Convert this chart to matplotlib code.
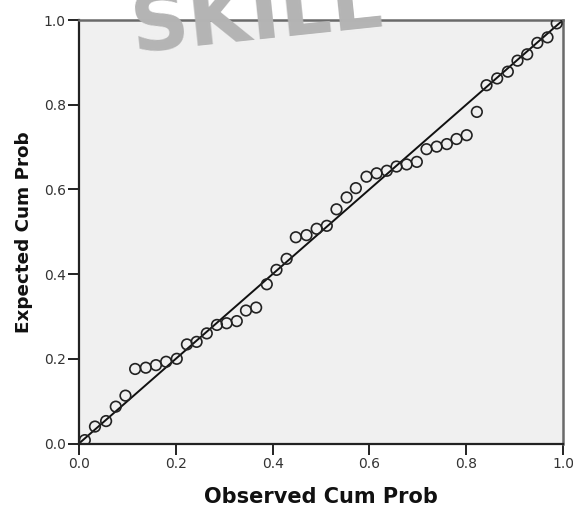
import matplotlib
matplotlib.use("Agg")
import matplotlib.pyplot as plt

# Observed cumulative probability (x) and expected cumulative probability (y)
observed = [0.012, 0.033, 0.056, 0.076, 0.096, 0.116, 0.138, 0.159, 0.180, 0.202,
            0.223, 0.243, 0.264, 0.285, 0.305, 0.326, 0.345, 0.366, 0.388, 0.408,
            0.429, 0.448, 0.470, 0.491, 0.512, 0.532, 0.553, 0.572, 0.594, 0.615,
            0.636, 0.656, 0.677, 0.698, 0.718, 0.739, 0.760, 0.780, 0.801, 0.822,
            0.842, 0.864, 0.886, 0.906, 0.926, 0.947, 0.968, 0.987]
expected = [0.008, 0.040, 0.053, 0.087, 0.113, 0.176, 0.179, 0.185, 0.193, 0.200,
            0.234, 0.240, 0.260, 0.280, 0.284, 0.289, 0.314, 0.321, 0.376, 0.410,
            0.436, 0.487, 0.492, 0.507, 0.514, 0.553, 0.581, 0.603, 0.630, 0.638,
            0.644, 0.654, 0.659, 0.665, 0.695, 0.701, 0.707, 0.719, 0.728, 0.783,
            0.846, 0.862, 0.878, 0.904, 0.919, 0.946, 0.959, 0.992]
ref_line = [0.0, 1.0]
ticks = [0.0, 0.2, 0.4, 0.6, 0.8, 1.0]
tick_labels = ["0.0", "0.2", "0.4", "0.6", "0.8", "1.0"]

plt.rcParams['font.family'] = ['DejaVu Sans']

fig = plt.figure(figsize=(5.73, 5.09), dpi=100)
ax = fig.add_axes([79/573, 1 - 443.5/509, 484/573, 423.5/509])
ax.set_facecolor('#f0f0f0')

ax.plot(ref_line, ref_line, color='#111111', lw=1.4, zorder=2)
ax.scatter(observed, expected, s=58, facecolors='none', edgecolors='#222222',
           linewidths=1.2, zorder=3)

ax.set_xlim(0, 1)
ax.set_ylim(0, 1)
ax.set_xticks(ticks)
ax.set_xticklabels(tick_labels)
ax.set_yticks(ticks)
ax.set_yticklabels(tick_labels)
ax.tick_params(axis='both', direction='out', length=8, width=1.4, colors='#222222',
               labelsize=10, labelcolor='#333333', pad=1.5)

for side in ['left', 'bottom']:
    ax.spines[side].set_color('#222222')
    ax.spines[side].set_linewidth(1.6)
for side in ['top', 'right']:
    ax.spines[side].set_color('#6a6a6a')
    ax.spines[side].set_linewidth(1.8)

ax.set_xlabel('Observed Cum Prob', fontsize=15, fontweight='bold', labelpad=12,
              color='#111111')
ax.set_ylabel('Expected Cum Prob', fontsize=13.2, fontweight='bold', labelpad=8,
              color='#111111')

fig.text(127/573, 1 - 52/509, 'SKILL', fontsize=58, fontweight='bold',
         color='#b4b4b4', rotation=6, ha='left', va='baseline', zorder=10)

fig.savefig('out.png', dpi=100)
